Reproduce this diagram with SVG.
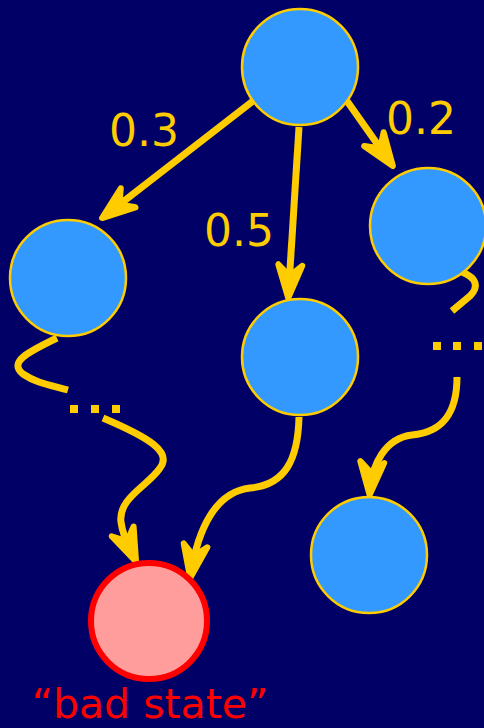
<svg xmlns="http://www.w3.org/2000/svg" width="484" height="728" viewBox="0 0 484 728">
  <defs>
    <style>
      .node { fill: #3399FF; stroke: #FFCC00; stroke-width: 2.5; }
      .conn { fill: none; stroke: #FFCC00; stroke-width: 7; }
      .dot { fill: #FFCC00; }
      .lbl { fill: #FFCC00; font-family: "DejaVu Sans", Verdana, sans-serif; font-size: 44px; }
      .bad-lbl { fill: #FF0000; font-family: "DejaVu Sans", Verdana, sans-serif; font-size: 41px; }
    </style>
    <marker id="arrow" markerUnits="userSpaceOnUse" viewBox="-44 -22 56 44" markerWidth="56" markerHeight="44" refX="-5" refY="0" orient="auto" overflow="visible">
      <path d="M0,0 L-33,-12 L-22,0 L-33,12 Z" fill="#FFCC00" stroke="#FFCC00" stroke-width="6" stroke-linejoin="round"/>
    </marker>
  </defs>
  <rect width="484" height="728" fill="#000066"/>

  <g id="connectors">
    <path class="conn" d="M253,101 L106,215" marker-end="url(#arrow)"/>
    <path class="conn" d="M299,127 L288.5,293" marker-end="url(#arrow)"/>
    <path class="conn" d="M347,101 L390,162" marker-end="url(#arrow)"/>
    <path class="conn" d="M57,338 C28,352 8,362 23,374 C36,383 50,385 68,390"/>
    <path class="conn" d="M103,418 C150,438 172,452 160,468 C148,486 118,498 121,522 C123,538 130,548 134,557" marker-end="url(#arrow)"/>
    <path class="conn" d="M299,417 C298,460 285,485 250,488 C215,492 198,530 191,573" marker-end="url(#arrow)"/>
    <path class="conn" d="M462,272 C477,278 479,287 470,296 L452,311"/>
    <path class="conn" d="M457,377 C457,410 445,432 412,435 C385,438 372,465 370,490" marker-end="url(#arrow)"/>
    <rect class="dot" x="70" y="405" width="8" height="8"/>
    <rect class="dot" x="91" y="405" width="8" height="8"/>
    <rect class="dot" x="112" y="405" width="8" height="8"/>
    <rect class="dot" x="433" y="342" width="8" height="8"/>
    <rect class="dot" x="453" y="342" width="8" height="8"/>
    <rect class="dot" x="474" y="342" width="8" height="8"/>
  </g>

  <g id="node-top"><circle class="node" cx="300" cy="67" r="58"/></g>
  <g id="node-left"><circle class="node" cx="68" cy="278" r="58"/></g>
  <g id="node-right"><circle class="node" cx="428" cy="226" r="58"/></g>
  <g id="node-middle"><circle class="node" cx="300" cy="357" r="58"/></g>
  <g id="node-bottom-right"><circle class="node" cx="369" cy="555" r="58"/></g>
  <g id="node-bad">
    <circle cx="149" cy="621" r="58" fill="#FF9C9C" stroke="#FF0000" stroke-width="6"/>
    <text class="bad-lbl" x="150" y="718" text-anchor="middle">“bad state”</text>
  </g>

  <g id="labels">
    <text class="lbl" x="144" y="146" text-anchor="middle">0.3</text>
    <text class="lbl" x="239" y="246" text-anchor="middle">0.5</text>
    <text class="lbl" x="421" y="134" text-anchor="middle">0.2</text>
  </g>
</svg>
